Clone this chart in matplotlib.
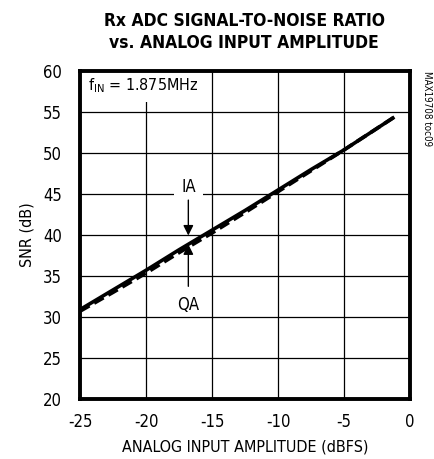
import matplotlib.pyplot as plt
from matplotlib import font_manager
from matplotlib.font_manager import FontProperties

plt.rcParams['axes.unicode_minus'] = False

# look for a condensed / narrow sans face, otherwise fall back to Liberation Sans
def pick(bold):
    for f in font_manager.fontManager.ttflist:
        narrow = ('Narrow' in f.name or 'Condensed' in f.name
                  or 'condensed' in str(f.stretch) or 'Condensed' in f.fname)
        isbold = f.weight in ('bold', 700) or (isinstance(f.weight, int) and f.weight >= 700)
        if narrow and f.style == 'normal' and isbold == bold and 'Mono' not in f.name:
            return f.fname
    return None

reg_file = pick(False)
bold_file = pick(True)

def fp(size, bold=False):
    path = bold_file if bold else reg_file
    if path:
        return FontProperties(fname=path, size=size)
    return FontProperties(family='Liberation Sans', size=size,
                          weight='bold' if bold else 'normal')

# data
amp_ia = [-25, -22.5, -20, -17.5, -15, -12.5, -10, -7.5, -5, -3, -1.2]
snr_ia = [30.9, 33.3, 35.7, 38.2, 40.6, 43.0, 45.5, 48.0, 50.4, 52.5, 54.4]
amp_qa = [-25, -22.5, -20, -17.5, -15, -12.5, -10, -7.5, -5, -3, -1.2]
snr_qa = [30.7, 33.0, 35.35, 37.85, 40.25, 42.75, 45.3, 47.85, 50.4, 52.5, 54.4]

xticks = [-25, -20, -15, -10, -5, 0]
yticks = [20, 25, 30, 35, 40, 45, 50, 55, 60]

fig = plt.figure(figsize=(4.35, 4.59), dpi=100)
ax = fig.add_axes([0.184, 0.131, 0.759, 0.714])

ax.plot(amp_ia, snr_ia, color='black', lw=2.6, solid_capstyle='butt', zorder=4)
ax.plot(amp_qa, snr_qa, color='black', lw=2.6, ls=(0, (3, 1.5)), zorder=3)

ax.set_xlim(-25, 0)
ax.set_ylim(20, 60)
ax.set_xticks(xticks)
ax.set_yticks(yticks)
ax.grid(True, color='black', lw=0.9)
ax.tick_params(length=0)
ax.tick_params(axis='y', pad=13)
ax.tick_params(axis='x', pad=10)
for lab in ax.get_xticklabels() + ax.get_yticklabels():
    lab.set_fontproperties(fp(12))
for s in ax.spines.values():
    s.set_linewidth(2.8)
    s.set_zorder(10)

ax.set_xlabel('ANALOG INPUT AMPLITUDE (dBFS)', fontproperties=fp(11.5), labelpad=6)
ax.set_ylabel('SNR (dB)', fontproperties=fp(11.5), labelpad=6)

fig.text(0.561, 0.955, 'Rx ADC SIGNAL-TO-NOISE RATIO', ha='center', va='center',
         fontproperties=fp(12.5, True))
fig.text(0.561, 0.906, 'vs. ANALOG INPUT AMPLITUDE', ha='center', va='center',
         fontproperties=fp(12.5, True))

ax.text(-24.4, 58.2, r'f$_{\mathregular{IN}}$ = 1.875MHz', fontproperties=fp(11.5), va='center',
        ha='left', bbox=dict(facecolor='white', edgecolor='none', pad=5), zorder=5)

ax.annotate('', xy=(-16.8, 39.6), xytext=(-16.8, 44.6),
            arrowprops=dict(arrowstyle='-|>', color='black', lw=1, mutation_scale=15), zorder=6)
ax.annotate('', xy=(-16.8, 39.2), xytext=(-16.8, 33.4),
            arrowprops=dict(arrowstyle='-|>', color='black', lw=1, mutation_scale=15), zorder=6)
ax.text(-16.8, 45.9, 'IA', fontproperties=fp(12), ha='center', va='center',
        bbox=dict(facecolor='white', edgecolor='none', pad=5), zorder=5)
ax.text(-16.8, 31.4, 'QA', fontproperties=fp(12), ha='center', va='center', zorder=5)

fig.text(0.982, 0.845, 'MAX19708 toc09', rotation=270, ha='center', va='top',
         fontproperties=fp(7))

fig.savefig('out.png', dpi=100)
